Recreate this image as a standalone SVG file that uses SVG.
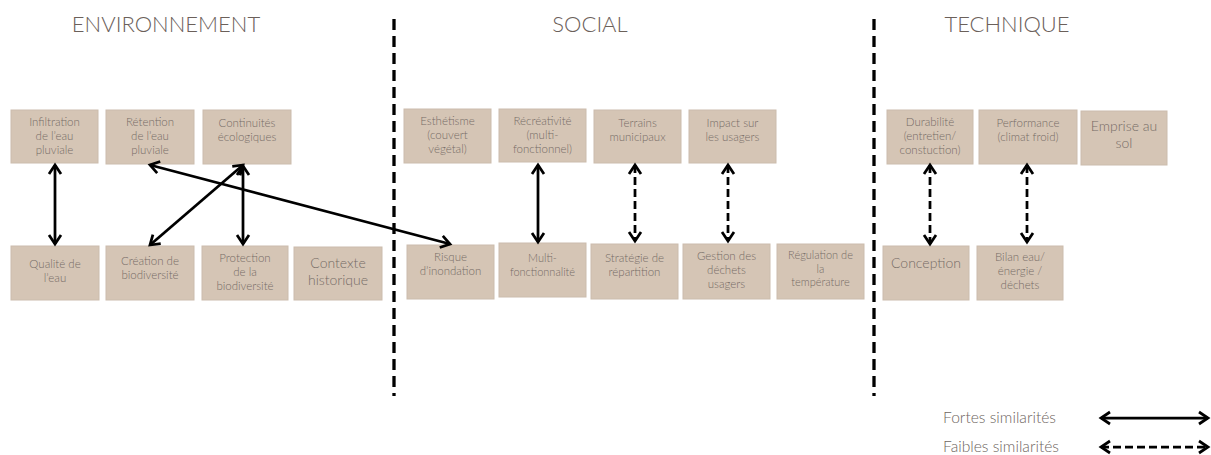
<svg xmlns="http://www.w3.org/2000/svg" width="1211" height="455" viewBox="0 0 1211 455">
<style>
.box{fill:#d5c5b5;stroke:#cbbcad;stroke-width:1}
.t{font-family:Lato,"Open Sans",sans-serif;font-weight:300;fill:#766c66;text-anchor:middle;font-size:11.5px}
.t14{font-size:14px}
.t11{font-size:11px}
.title{font-family:Lato,"Open Sans",sans-serif;font-weight:300;fill:#6b605a;text-anchor:middle;font-size:22px}
.leg{font-family:Lato,"Open Sans",sans-serif;font-weight:300;fill:#6e6560;font-size:15.5px}
.sep{stroke:#000;stroke-width:3.3;stroke-dasharray:11 6;fill:none}
.c{stroke:#000;stroke-width:2.75;fill:none;marker-start:url(#ah);marker-end:url(#ah)}
.d{stroke-dasharray:8 4}
</style>
<defs>
<marker id="ah" viewBox="-13 -9 16 18" refX="0" refY="0" markerWidth="16" markerHeight="18" markerUnits="userSpaceOnUse" orient="auto-start-reverse">
<path d="M-9,-6 L0,0 L-9,6" fill="none" stroke="#000" stroke-width="2.75" stroke-dasharray="none"/>
</marker>
</defs>
<rect width="1211" height="455" fill="#fff"/>
<g id="titles">
<text class="title" x="166" y="32">ENVIRONNEMENT</text>
<text class="title" x="590" y="32">SOCIAL</text>
<text class="title" x="1007" y="32">TECHNIQUE</text>
</g>
<g id="separators">
<line class="sep" x1="394" y1="19" x2="394" y2="396"/>
<line class="sep" x1="874" y1="19" x2="874" y2="396"/>
</g>
<g id="n-infiltration"><rect class="box" x="11" y="110" width="87" height="53"/><text class="t"><tspan x="54.5" y="126">Infiltration</tspan><tspan x="54.5" y="140">de l’eau</tspan><tspan x="54.5" y="154">pluviale</tspan></text></g>
<g id="n-retention"><rect class="box" x="106" y="110" width="88" height="54"/><text class="t"><tspan x="150" y="126">Rétention</tspan><tspan x="150" y="140">de l’eau</tspan><tspan x="150" y="154">pluviale</tspan></text></g>
<g id="n-continuites"><rect class="box" x="203" y="110" width="88" height="54"/><text class="t"><tspan x="247" y="127">Continuités</tspan><tspan x="247" y="141">écologiques</tspan></text></g>
<g id="n-qualite"><rect class="box" x="11" y="246" width="88" height="54"/><text class="t"><tspan x="55" y="268">Qualité de</tspan><tspan x="55" y="282">l’eau</tspan></text></g>
<g id="n-creation"><rect class="box" x="106" y="246" width="88" height="54"/><text class="t"><tspan x="150" y="265">Création de</tspan><tspan x="150" y="279">biodiversité</tspan></text></g>
<g id="n-protection"><rect class="box" x="202" y="246" width="86" height="54"/><text class="t"><tspan x="245" y="262">Protection</tspan><tspan x="245" y="276">de la</tspan><tspan x="245" y="290">biodiversité</tspan></text></g>
<g id="n-contexte"><rect class="box" x="294" y="247" width="88" height="53"/><text class="t t14"><tspan x="338" y="268">Contexte</tspan><tspan x="338" y="285">historique</tspan></text></g>
<g id="n-esthetisme"><rect class="box" x="404" y="109" width="87" height="54"/><text class="t"><tspan x="447.5" y="125">Esthétisme</tspan><tspan x="447.5" y="139">(couvert</tspan><tspan x="447.5" y="153">végétal)</tspan></text></g>
<g id="n-recreativite"><rect class="box" x="499" y="109" width="87" height="53"/><text class="t"><tspan x="542.5" y="125">Récréativité</tspan><tspan x="542.5" y="139">(multi-</tspan><tspan x="542.5" y="153">fonctionnel)</tspan></text></g>
<g id="n-terrains"><rect class="box" x="594" y="110" width="87" height="53"/><text class="t"><tspan x="637.5" y="127">Terrains</tspan><tspan x="637.5" y="141">municipaux</tspan></text></g>
<g id="n-impact"><rect class="box" x="689" y="110" width="87" height="53"/><text class="t"><tspan x="732.5" y="127">Impact sur</tspan><tspan x="732.5" y="141">les usagers</tspan></text></g>
<g id="n-risque"><rect class="box" x="407" y="245" width="87" height="54"/><text class="t"><tspan x="450.5" y="261">Risque</tspan><tspan x="450.5" y="275">d’inondation</tspan></text></g>
<g id="n-multi"><rect class="box" x="499" y="243" width="87" height="54"/><text class="t t11"><tspan x="542.5" y="262">Multi-</tspan><tspan x="542.5" y="276">fonctionnalité</tspan></text></g>
<g id="n-strategie"><rect class="box" x="591" y="244" width="87" height="55"/><text class="t"><tspan x="634.5" y="262">Stratégie de</tspan><tspan x="634.5" y="276">répartition</tspan></text></g>
<g id="n-gestion"><rect class="box" x="683" y="244" width="87" height="55"/><text class="t"><tspan x="726.5" y="260">Gestion des</tspan><tspan x="726.5" y="274">déchets</tspan><tspan x="726.5" y="288">usagers</tspan></text></g>
<g id="n-regulation"><rect class="box" x="777" y="244" width="87" height="55"/><text class="t t11"><tspan x="820.5" y="259">Régulation de</tspan><tspan x="820.5" y="272.5">la</tspan><tspan x="820.5" y="286">température</tspan></text></g>
<g id="n-durabilite"><rect class="box" x="887" y="110" width="86" height="54"/><text class="t"><tspan x="930" y="126">Durabilité</tspan><tspan x="930" y="140">(entretien/</tspan><tspan x="930" y="154">constuction)</tspan></text></g>
<g id="n-performance"><rect class="box" x="979" y="110" width="98" height="54"/><text class="t"><tspan x="1028" y="127">Performance</tspan><tspan x="1028" y="141">(climat froid)</tspan></text></g>
<g id="n-emprise"><rect class="box" x="1081" y="111" width="86" height="54"/><text class="t t14"><tspan x="1124" y="131">Emprise au</tspan><tspan x="1124" y="148">sol</tspan></text></g>
<g id="n-conception"><rect class="box" x="883" y="246" width="86" height="54"/><text class="t t14"><tspan x="926" y="268">Conception</tspan></text></g>
<g id="n-bilan"><rect class="box" x="977" y="246" width="86" height="54"/><text class="t"><tspan x="1020" y="261">Bilan eau/</tspan><tspan x="1020" y="275">énergie /</tspan><tspan x="1020" y="289">déchets</tspan></text></g>
<g id="connectors">
<line class="c" x1="55" y1="165" x2="55" y2="244"/>
<line class="c" x1="150" y1="165" x2="450" y2="244"/>
<line class="c" x1="243" y1="165" x2="150" y2="245"/>
<line class="c" x1="243" y1="166" x2="243" y2="244"/>
<line class="c" x1="538" y1="165" x2="538" y2="242"/>
<line class="c d" x1="635" y1="165" x2="635" y2="241"/>
<line class="c d" x1="728" y1="165" x2="728" y2="241"/>
<line class="c d" x1="930" y1="165" x2="930" y2="244"/>
<line class="c d" x1="1027" y1="165" x2="1027" y2="242"/>
</g>
<g id="legend">
<text class="leg" x="943" y="423" textLength="113" lengthAdjust="spacingAndGlyphs">Fortes similarités</text>
<text class="leg" x="943" y="452" textLength="116" lengthAdjust="spacingAndGlyphs">Faibles similarités</text>
<line class="c" x1="1101" y1="418" x2="1208" y2="418"/>
<line class="c d" x1="1101" y1="447" x2="1208" y2="447"/>
</g>
</svg>
